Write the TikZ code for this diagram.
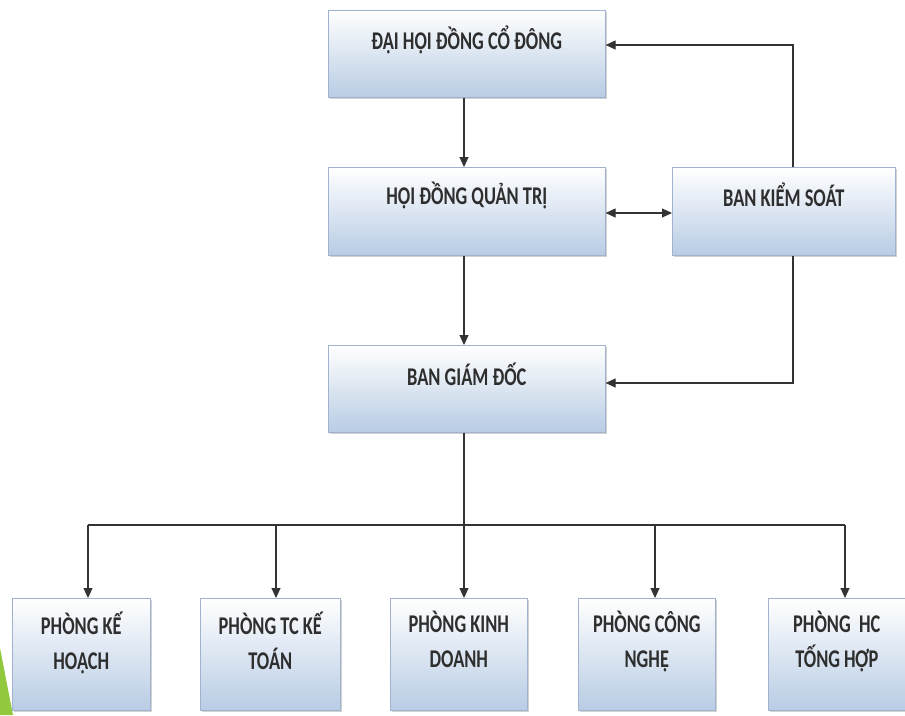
\documentclass[tikz,border=0pt]{standalone}
\usepackage{fontspec}
\setmainfont{Carlito}[FakeStretch=0.72]
\usetikzlibrary{arrows.meta,shadows}
\definecolor{boxbot}{RGB}{184,204,228}
\definecolor{boxline}{RGB}{160,178,205}
\definecolor{slidegreen}{RGB}{146,200,62}
\tikzset{
  orgbox/.style={rectangle, draw=boxline, line width=0.6pt, top color=white, bottom color=boxbot,
    drop shadow={shadow xshift=1.5pt, shadow yshift=-1.5pt, fill=black!35, opacity=0.5}},
  txt/.style={font=\fontsize{25.5}{35}\selectfont\bfseries, text=black!82, align=center},
  conn/.style={draw=black!80, line width=1.1pt, -{Triangle[length=10pt,width=9pt]}},
  dconn/.style={draw=black!80, line width=1.1pt, {Triangle[length=10pt,width=9pt]}-{Triangle[length=10pt,width=9pt]}},
  plain/.style={draw=black!80, line width=1.1pt}
}
\begin{document}
\begin{tikzpicture}[x=1pt,y=-1pt]
\useasboundingbox (0,0) rectangle (905,715);
\fill[slidegreen] (0,648) -- (13,715) -- (0,715) -- cycle;
% top boxes
\node[orgbox, minimum width=277pt, minimum height=87pt, anchor=north west] (dh) at (328,10) {};
\node[txt] (tdh) at ([yshift=-30pt]dh.north) {ĐẠI HỘI ĐỒNG CỔ ĐÔNG};
\node[orgbox, minimum width=277pt, minimum height=88pt, anchor=north west] (hd) at (328,167) {};
\node[txt] (thd) at ([yshift=-28pt]hd.north) {HỘI ĐỒNG QUẢN TRỊ};
\node[orgbox, minimum width=223pt, minimum height=88pt, anchor=north west] (bk) at (672,167) {};
\node[txt] (tbk) at ([yshift=-28pt]bk.north) {BAN KIỂM SOÁT};
\node[orgbox, minimum width=277pt, minimum height=87pt, anchor=north west] (bg) at (328,345) {};
\node[txt] (tbg) at ([yshift=-29pt]bg.north) {BAN GIÁM ĐỐC};
% bottom boxes
\node[orgbox, minimum width=138pt, minimum height=112pt, anchor=north west] (p1) at (12,598) {};
\node[orgbox, minimum width=140pt, minimum height=112pt, anchor=north west] (p2) at (200,598) {};
\node[orgbox, minimum width=137pt, minimum height=112pt, anchor=north west] (p3) at (390,598) {};
\node[orgbox, minimum width=137pt, minimum height=112pt, anchor=north west] (p4) at (578,598) {};
\node[orgbox, minimum width=137pt, minimum height=112pt, anchor=north west] (p5) at (768,598) {};
\node[txt, anchor=north] (t1) at ([yshift=-10pt]p1.north) {PHÒNG KẾ\\HOẠCH};
\node[txt, anchor=north] (t2) at ([yshift=-10pt]p2.north) {PHÒNG TC KẾ\\TOÁN};
\node[txt, anchor=north] (t3) at ([yshift=-10pt]p3.north) {PHÒNG KINH\\DOANH};
\node[txt, anchor=north] (t4) at ([yshift=-10pt]p4.north) {PHÒNG CÔNG\\NGHỆ};
\node[txt, anchor=north] (t5) at ([yshift=-10pt]p5.north) {PHÒNG\ \ HC\\TỐNG HỢP};
% connectors
\draw[conn] (dh.south -| 464,0) -- (hd.north -| 464,0);
\draw[conn] (hd.south -| 464,0) -- (bg.north -| 464,0);
\draw[dconn] (hd.east |- 0,213) -- (bk.west |- 0,213);
\coordinate (k1) at (793,45);
\coordinate (k2) at (793,383);
\draw[conn] (bk.north -| 793,0) -- (k1) -- (dh.east |- k1);
\draw[conn] (bk.south -| 793,0) -- (k2) -- (bg.east |- k2);
\coordinate (bus) at (464,525);
\coordinate (busL) at (88,525);
\coordinate (busR) at (845,525);
\draw[plain] (bg.south -| bus) -- (bus);
\draw[plain] (busL) -- (busR);
\draw[conn] (busL) -- (p1.north -| busL);
\draw[conn] (276,525) -- (p2.north -| 276,0);
\draw[conn] (bus) -- (p3.north -| bus);
\draw[conn] (655,525) -- (p4.north -| 655,0);
\draw[conn] (busR) -- (p5.north -| busR);
\end{tikzpicture}
\end{document}
